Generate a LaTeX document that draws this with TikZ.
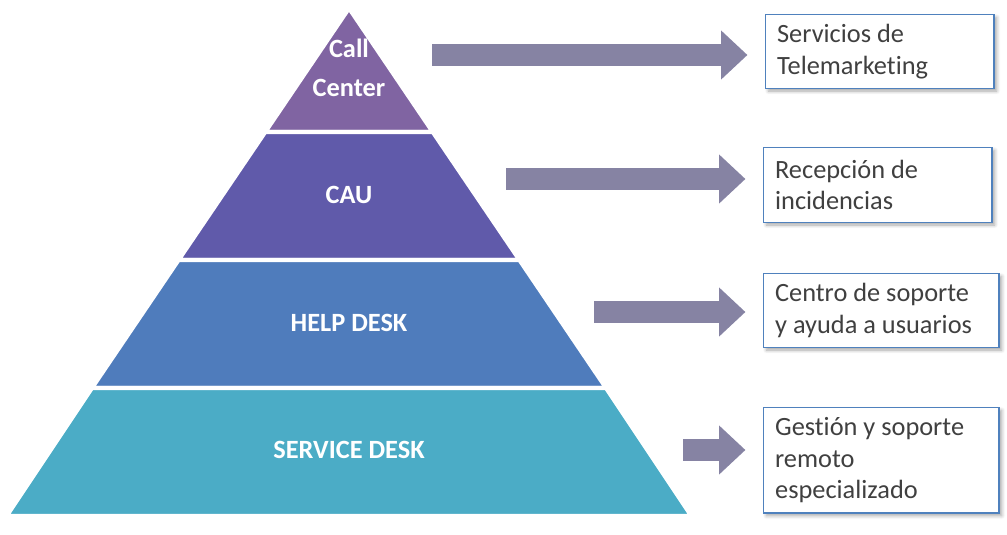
\documentclass[tikz,border=0pt]{standalone}
\usepackage{fontspec}
\setmainfont[Ligatures=NoCommon]{Carlito}
\usetikzlibrary{arrows.meta, positioning, shadows.blur}
\definecolor{callviolet}{RGB}{128,100,162}
\definecolor{cauindigo}{RGB}{96,90,170}
\definecolor{helpblue}{RGB}{79,124,188}
\definecolor{servicecyan}{RGB}{75,172,198}
\definecolor{arrowgrey}{RGB}{134,131,163}
\definecolor{boxblue}{RGB}{79,129,189}
\definecolor{textgrey}{RGB}{64,64,64}

\begin{document}
\begin{tikzpicture}[x=0.02cm, y=-0.02cm,
    layer/.style={draw=white, line width=2.5pt, line join=round},
    layertext/.style={text=white, align=center, font=\fontsize{15}{17}\selectfont\bfseries},
    infobox/.style={draw=boxblue, line width=0.8pt, fill=white, anchor=north west, align=left,
        text=textgrey, inner xsep=6.5pt, font=\fontsize{15}{18}\selectfont,
        execute at begin node={\spaceskip=0pt\xspaceskip=0pt},
        blur shadow={shadow xshift=1.5pt, shadow yshift=-1.5pt, shadow blur steps=6, shadow opacity=35}},
    bigarrow/.style={draw=arrowgrey, line width=13pt, -{Triangle[length=15pt, width=27pt]}, shorten >=10pt}]
\useasboundingbox (0,0) rectangle (1007,534);

% Pyramid layers
\fill[layer, fill=callviolet] (349,8) -- (432.9,132) -- (265.1,132) -- cycle;
\fill[layer, fill=cauindigo] (265.1,132) -- (432.9,132) -- (519.6,260) -- (178.4,260) -- cycle;
\fill[layer, fill=helpblue] (178.4,260) -- (519.6,260) -- (606.2,388) -- (91.8,388) -- cycle;
\fill[layer, fill=servicecyan] (91.8,388) -- (606.2,388) -- (691.5,516) -- (6.5,516) -- cycle;

\node[layertext] (callc) at (349,68) {Call\\[5pt]Center};
\node[layertext] (cau) at (349,195) {CAU};
\node[layertext] (helpd) at (349,323) {HELP DESK};
\node[layertext] (serviced) at (349,450) {SERVICE DESK};

% Description boxes
\node[infobox, text width=117pt, minimum height=42pt] (b1) at (765,14) {Servicios de\\Telemarketing};
\node[infobox, text width=117pt, minimum height=42.5pt] (b2) at (763,147) {Recepción de\\incidencias};
\node[infobox, text width=121pt, minimum height=42pt] (b3) at (763,273) {Centro de soporte\\y ayuda a usuarios};
\node[infobox, text width=121pt, minimum height=60pt] (b4) at (763,407) {Gestión y soporte\\remoto\\especializado};

% Arrows
\coordinate (s1) at (432,55);
\coordinate (s2) at (506,179);
\coordinate (s3) at (594,312);
\coordinate (s4) at (683,450);
\draw[bigarrow] (s1) -- (s1 -| b1.west);
\draw[bigarrow] (s2) -- (s2 -| b2.west);
\draw[bigarrow] (s3) -- (s3 -| b3.west);
\draw[bigarrow] (s4) -- (s4 -| b4.west);
\end{tikzpicture}
\end{document}
